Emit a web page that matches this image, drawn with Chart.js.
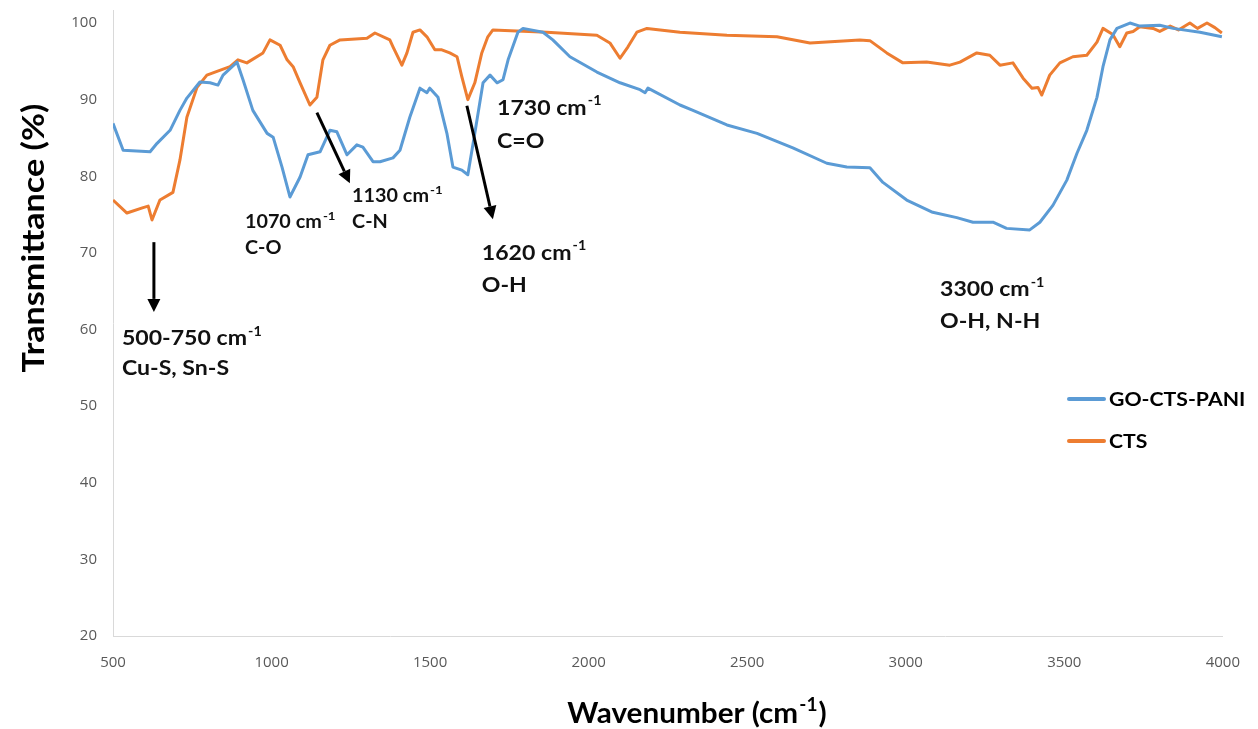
<!DOCTYPE html>
<html>
<head>
<meta charset="utf-8">
<script src="https://cdn.jsdelivr.net/npm/chart.js@4"></script>
<style>
  html, body { margin: 0; padding: 0; background: #fff; }
  #wrap { width: 1258px; height: 729px; position: relative; }
</style>
</head>
<body>
<div id="wrap"><canvas id="ftir"></canvas></div>
<script>
// FTIR spectra (wavenumber in cm-1, transmittance in %)
const goWavenumber = [500, 532, 617, 639, 680, 711, 733, 774, 806, 831, 847, 891, 910, 941, 986, 1005, 1033, 1058, 1090, 1115, 1153, 1184, 1206, 1238, 1269, 1288, 1320, 1342, 1383, 1405, 1436, 1468, 1490, 1499, 1525, 1553, 1572, 1600, 1619, 1641, 1667, 1689, 1711, 1730, 1746, 1777, 1793, 1856, 1887, 1941, 2026, 2099, 2162, 2178, 2187, 2288, 2329, 2436, 2531, 2644, 2751, 2814, 2887, 2928, 3003, 3085, 3161, 3212, 3275, 3318, 3391, 3423, 3464, 3508, 3540, 3571, 3603, 3622, 3644, 3666, 3707, 3738, 3801, 3843, 3928, 3997];
const goTransmittance = [86.9, 83.4, 83.2, 84.3, 86.0, 88.6, 90.2, 92.3, 92.2, 91.9, 93.2, 94.9, 92.6, 88.6, 85.6, 85.1, 81.2, 77.3, 79.9, 82.8, 83.2, 86.0, 85.8, 82.8, 84.1, 83.8, 81.9, 81.9, 82.4, 83.4, 87.7, 91.5, 90.9, 91.5, 90.3, 85.6, 81.2, 80.8, 80.2, 85.6, 92.2, 93.2, 92.2, 92.6, 95.2, 98.8, 99.3, 98.8, 97.8, 95.6, 93.6, 92.2, 91.3, 90.9, 91.5, 89.3, 88.6, 86.7, 85.6, 83.7, 81.7, 81.2, 81.1, 79.2, 76.9, 75.3, 74.6, 74.0, 74.0, 73.2, 73.0, 74.0, 76.2, 79.5, 83.0, 86.0, 90.3, 94.3, 97.8, 99.3, 100.0, 99.6, 99.7, 99.3, 98.8, 98.2];

const ctsWavenumber = [500, 544, 595, 611, 623, 648, 689, 711, 733, 765, 796, 828, 869, 894, 922, 973, 995, 1027, 1049, 1068, 1090, 1121, 1143, 1162, 1184, 1216, 1301, 1326, 1373, 1383, 1411, 1427, 1446, 1468, 1490, 1515, 1537, 1562, 1585, 1600, 1619, 1641, 1663, 1682, 1698, 1868, 2026, 2067, 2099, 2124, 2152, 2184, 2288, 2436, 2594, 2698, 2855, 2887, 2940, 2991, 3066, 3139, 3171, 3224, 3265, 3297, 3338, 3370, 3398, 3417, 3429, 3454, 3486, 3527, 3571, 3603, 3622, 3653, 3675, 3697, 3717, 3738, 3780, 3801, 3834, 3860, 3896, 3920, 3950, 3975, 3997];
const ctsTransmittance = [76.9, 75.2, 75.9, 76.1, 74.3, 76.9, 77.9, 82.1, 87.7, 91.6, 93.2, 93.7, 94.3, 95.2, 94.8, 96.1, 97.8, 97.1, 95.2, 94.3, 92.2, 89.3, 90.3, 95.2, 97.1, 97.8, 98.0, 98.7, 97.8, 96.9, 94.5, 96.1, 98.8, 99.1, 98.2, 96.5, 96.5, 96.1, 95.6, 93.0, 90.0, 92.2, 96.1, 98.2, 99.1, 98.8, 98.4, 97.4, 95.4, 96.9, 98.8, 99.3, 98.8, 98.4, 98.2, 97.4, 97.8, 97.7, 96.1, 94.8, 94.9, 94.5, 94.9, 96.1, 95.8, 94.5, 94.8, 92.8, 91.5, 91.6, 90.6, 93.2, 94.8, 95.6, 95.8, 97.5, 99.3, 98.5, 96.9, 98.7, 98.9, 99.5, 99.3, 98.9, 99.6, 99.1, 100.0, 99.3, 100.0, 99.4, 98.7];

const seriesNames = ['GO-CTS-PANI', 'CTS'];
const xTicks = [500, 1000, 1500, 2000, 2500, 3000, 3500, 4000];
const yTicks = [20, 30, 40, 50, 60, 70, 80, 90, 100];

const BLUE = '#5b9bd5';
const ORANGE = '#ed7d31';
const INK = '#111';
const STRETCH = 1.1;

// peak labels, anchored at [wavenumber, transmittance] of the first line's left edge
const peakLabels = [
  { at: [916, 74.0], size: 18, lines: ['1070 cm^-1', 'C-O'], gap: 26 },
  { at: [1254, 77.4], size: 18, lines: ['1130 cm^-1', 'C-N'], gap: 26 },
  { at: [1711, 88.9], size: 21, lines: ['1730 cm^-1', 'C=O'], gap: 33 },
  { at: [1663, 70.0], size: 21, lines: ['1620 cm^-1', 'O-H'], gap: 32 },
  { at: [3108, 65.2], size: 21, lines: ['3300 cm^-1', 'O-H, N-H'], gap: 32 },
  { at: [528, 58.8], size: 21, lines: ['500-750 cm^-1', 'Cu-S, Sn-S'], gap: 30 }
];
const peakArrows = [
  { from: [629, 71.4], to: [629, 62.3] },
  { from: [1143, 88.3], to: [1247, 79.1] },
  { from: [1616, 89.2], to: [1698, 74.4] }
];

function toPoints(xs, ys) {
  return xs.map((x, i) => ({ x: x, y: ys[i] }));
}

// bold text drawn slightly wide; "^" marks a superscript tail
function drawRich(ctx, text, x, y, size, sx) {
  const parts = text.split('^');
  ctx.save();
  ctx.translate(x, y);
  ctx.scale(sx, 1);
  ctx.font = 'bold ' + size + 'px Lato';
  ctx.fillText(parts[0], 0, 0);
  let w = ctx.measureText(parts[0]).width;
  if (parts[1]) {
    ctx.font = 'bold ' + Math.round(size * 0.64) + 'px Lato';
    ctx.fillText(parts[1], w + 1, -size * 0.33);
    w += 1 + ctx.measureText(parts[1]).width;
  }
  if (parts[2]) {
    ctx.font = 'bold ' + size + 'px Lato';
    ctx.fillText(parts[2], w + 1, 0);
    w += 1 + ctx.measureText(parts[2]).width;
  }
  ctx.restore();
  return w * sx;
}

function drawArrow(ctx, x1, y1, x2, y2) {
  const ang = Math.atan2(y2 - y1, x2 - x1);
  const head = 13, half = 6.5;
  const bx = x2 - head * Math.cos(ang), by = y2 - head * Math.sin(ang);
  ctx.strokeStyle = '#000';
  ctx.lineWidth = 3;
  ctx.beginPath();
  ctx.moveTo(x1, y1);
  ctx.lineTo(bx, by);
  ctx.stroke();
  ctx.fillStyle = '#000';
  ctx.beginPath();
  ctx.moveTo(x2, y2);
  ctx.lineTo(bx + half * Math.sin(ang), by - half * Math.cos(ang));
  ctx.lineTo(bx - half * Math.sin(ang), by + half * Math.cos(ang));
  ctx.closePath();
  ctx.fill();
}

const decorations = {
  id: 'decorations',
  afterDraw(chart) {
    const ctx = chart.ctx;
    const xs = chart.scales.x, ys = chart.scales.y;
    ctx.save();
    ctx.fillStyle = INK;
    ctx.textBaseline = 'middle';
    ctx.textAlign = 'left';
    peakLabels.forEach(l => {
      const px = xs.getPixelForValue(l.at[0]);
      const py = ys.getPixelForValue(l.at[1]);
      l.lines.forEach((t, i) => drawRich(ctx, t, px, py + i * l.gap, l.size, STRETCH));
    });
    peakArrows.forEach(a => {
      drawArrow(ctx,
        xs.getPixelForValue(a.from[0]), ys.getPixelForValue(a.from[1]),
        xs.getPixelForValue(a.to[0]), ys.getPixelForValue(a.to[1]));
    });

    // legend
    const colors = [BLUE, ORANGE];
    seriesNames.forEach((name, i) => {
      const ly = 399 + i * 42;
      ctx.strokeStyle = colors[i];
      ctx.lineWidth = 4;
      ctx.lineCap = 'round';
      ctx.beginPath();
      ctx.moveTo(1069, ly);
      ctx.lineTo(1104, ly);
      ctx.stroke();
      ctx.fillStyle = '#000';
      drawRich(ctx, name, 1109, ly + 1, 18, 1.18);
    });

    // axis titles
    ctx.fillStyle = '#000';
    const xTitle = 'Wavenumber (cm^-1^)';
    ctx.globalAlpha = 0;
    const tw = drawRich(ctx, xTitle, 0, 0, 28, 1.06);
    ctx.globalAlpha = 1;
    drawRich(ctx, xTitle, 697 - tw / 2, 714, 28, 1.06);

    ctx.translate(34, 238);
    ctx.rotate(-Math.PI / 2);
    ctx.globalAlpha = 0;
    const yw = drawRich(ctx, 'Transmittance (%)', 0, 0, 30, 1.14);
    ctx.globalAlpha = 1;
    drawRich(ctx, 'Transmittance (%)', -yw / 2, 0, 30, 1.14);
    ctx.restore();
  }
};

new Chart(document.getElementById('ftir'), {
  type: 'line',
  data: {
    datasets: [
      { label: seriesNames[0], data: toPoints(goWavenumber, goTransmittance), borderColor: BLUE, borderWidth: 3 },
      { label: seriesNames[1], data: toPoints(ctsWavenumber, ctsTransmittance), borderColor: ORANGE, borderWidth: 3 }
    ]
  },
  options: {
    responsive: true,
    maintainAspectRatio: false,
    animation: false,
    layout: { padding: { top: 10, right: 35, left: 0, bottom: 0 } },
    elements: { point: { radius: 0 }, line: { tension: 0, borderJoinStyle: 'round' } },
    plugins: { legend: { display: false }, tooltip: { enabled: false } },
    scales: {
      x: {
        type: 'linear',
        min: 500,
        max: 4000,
        afterBuildTicks: s => { s.ticks = xTicks.map(v => ({ value: v })); },
        afterFit: s => { s.height = 93; },
        grid: { display: false, drawTicks: false },
        border: { display: true, color: '#d9d9d9', width: 1 },
        ticks: { padding: 18, maxRotation: 0, color: '#595959', font: { family: 'Open Sans', size: 15 }, callback: v => String(v) }
      },
      y: {
        min: 20,
        max: 101.7,
        afterBuildTicks: s => { s.ticks = yTicks.map(v => ({ value: v })); },
        // fixed axis width; the tick gap should not push the plot top down
        afterFit: s => { s.width = 113; s.paddingTop = 0; s.paddingBottom = 0; },
        grid: { display: false, drawTicks: false },
        border: { display: true, color: '#d9d9d9', width: 1 },
        ticks: { padding: 16, color: '#595959', font: { family: 'Open Sans', size: 15 }, callback: v => String(v) }
      }
    }
  },
  plugins: [decorations]
});
</script>
</body>
</html>
